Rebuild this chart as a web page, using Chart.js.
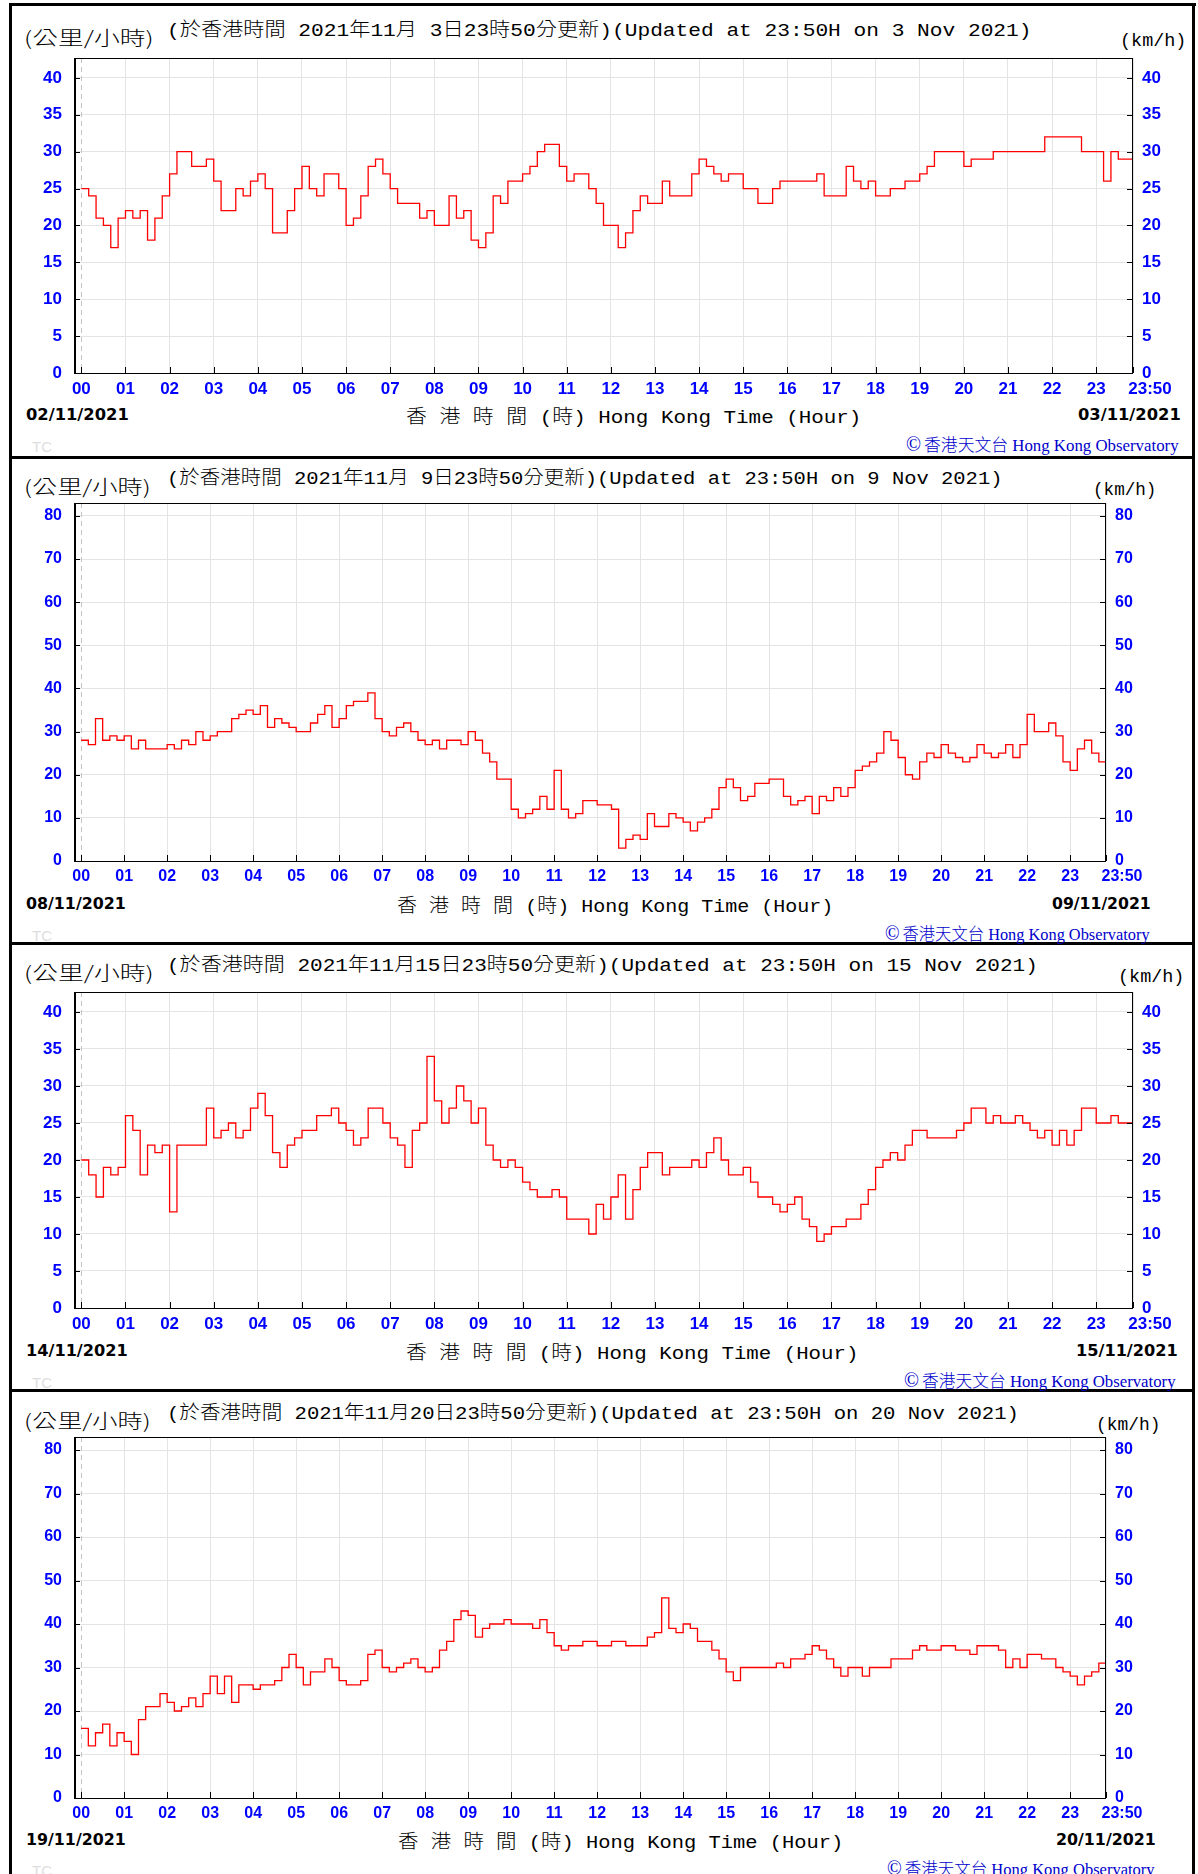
<!DOCTYPE html>
<html>
<head>
<meta charset="utf-8">
<title>Hong Kong wind speed</title>
<script src="https://cdn.jsdelivr.net/npm/chart.js@4.4.1/dist/chart.umd.min.js"></script>
<style>
  html, body { margin: 0; padding: 0; background: #fff; }
  #page { position: relative; width: 1198px; height: 1874px; overflow: hidden; background: #fff; }
  .rule { position: absolute; background: #000; }
  .t { position: absolute; white-space: nowrap; line-height: 24px; transform-origin: 0 50%; color: #000; }
  .title, .kmh, .axt { font-family: "Liberation Mono", "DejaVu Sans Mono", "Noto Sans CJK TC", monospace; font-size: 19px; }
  .cjk { font-family: "Noto Sans CJK TC", sans-serif; font-weight: 300; }
  .unit { font-family: "Noto Sans CJK TC", sans-serif; font-weight: 300; font-size: 19px; }
  .date { font-family: "DejaVu Sans", sans-serif; font-weight: bold; font-size: 16px; }
  .copy { font-family: "Liberation Serif", "Noto Sans CJK TC", serif; font-size: 17px; color: #0000cc; }
  .copy .mark { font-size: 20px; margin-right: 3px; }
  .tc { font-family: "Liberation Sans", sans-serif; font-size: 15px; color: #dedede; }
  canvas { position: absolute; left: 0; }
</style>
</head>
<body>
<div id="page"></div>
<script>
// wind speed (km/h), one reading every 10 minutes, 00:00 - 23:50 HKT
const sampleMinutes = Array.from({ length: 144 }, (_, i) => i * 10)

const speedNov3 = [
  25, 24, 21, 20, 17, 21, 22, 21, 22, 18, 21, 24,
  27, 30, 30, 28, 28, 29, 26, 22, 22, 25, 24, 26,
  27, 25, 19, 19, 22, 25, 28, 25, 24, 27, 27, 25,
  20, 21, 24, 28, 29, 27, 25, 23, 23, 23, 21, 22,
  20, 20, 24, 21, 22, 18, 17, 19, 24, 23, 26, 26,
  27, 28, 30, 31, 31, 28, 26, 27, 27, 25, 23, 20,
  20, 17, 19, 22, 24, 23, 23, 26, 24, 24, 24, 27,
  29, 28, 27, 26, 27, 27, 25, 25, 23, 23, 25, 26,
  26, 26, 26, 26, 27, 24, 24, 24, 28, 26, 25, 26,
  24, 24, 25, 25, 26, 26, 27, 28, 30, 30, 30, 30,
  28, 29, 29, 29, 30, 30, 30, 30, 30, 30, 30, 32,
  32, 32, 32, 32, 30, 30, 30, 26, 30, 29, 29, 29
]
const speedNov9 = [
  28, 27, 33, 28, 29, 28, 29, 26, 28, 26, 26, 26,
  27, 26, 28, 27, 30, 28, 29, 30, 30, 33, 34, 35,
  34, 36, 31, 33, 32, 31, 30, 30, 32, 34, 36, 31,
  33, 36, 37, 37, 39, 33, 30, 29, 31, 32, 30, 28,
  27, 28, 26, 28, 28, 27, 30, 28, 25, 23, 19, 19,
  12, 10, 11, 12, 15, 12, 21, 12, 10, 11, 14, 14,
  13, 13, 12, 3, 5, 6, 5, 11, 8, 8, 11, 10,
  9, 7, 9, 10, 12, 17, 19, 17, 14, 15, 18, 18,
  19, 19, 15, 13, 14, 15, 11, 15, 14, 17, 15, 17,
  21, 22, 23, 25, 30, 28, 24, 20, 19, 23, 25, 24,
  27, 25, 24, 23, 24, 27, 25, 24, 25, 27, 24, 27,
  34, 30, 30, 32, 29, 23, 21, 26, 28, 25, 23, 22
]
const speedNov15 = [
  20, 18, 15, 19, 18, 19, 26, 24, 18, 22, 21, 22,
  13, 22, 22, 22, 22, 27, 23, 24, 25, 23, 24, 27,
  29, 26, 21, 19, 22, 23, 24, 24, 26, 26, 27, 25,
  24, 22, 23, 27, 27, 25, 23, 22, 19, 24, 25, 34,
  28, 25, 27, 30, 28, 25, 27, 22, 20, 19, 20, 19,
  17, 16, 15, 15, 16, 15, 12, 12, 12, 10, 14, 12,
  15, 18, 12, 16, 19, 21, 21, 18, 19, 19, 19, 20,
  19, 21, 23, 20, 18, 18, 19, 17, 15, 15, 14, 13,
  14, 15, 12, 11, 9, 10, 11, 11, 12, 12, 14, 16,
  19, 20, 21, 20, 22, 24, 24, 23, 23, 23, 23, 24,
  25, 27, 27, 25, 26, 25, 25, 26, 25, 24, 23, 24,
  22, 24, 22, 24, 27, 27, 25, 25, 26, 25, 25, 24
]
const speedNov20 = [
  16, 12, 15, 17, 12, 15, 13, 10, 18, 21, 21, 24,
  22, 20, 21, 23, 21, 24, 28, 24, 28, 22, 26, 26,
  25, 26, 26, 27, 30, 33, 30, 26, 29, 29, 32, 30,
  27, 26, 26, 27, 33, 34, 30, 29, 30, 31, 32, 30,
  29, 30, 34, 36, 41, 43, 42, 37, 39, 40, 40, 41,
  40, 40, 40, 39, 41, 38, 35, 34, 35, 35, 36, 36,
  35, 35, 36, 36, 35, 35, 35, 37, 38, 46, 39, 38,
  40, 39, 36, 36, 34, 32, 29, 27, 30, 30, 30, 30,
  30, 31, 30, 32, 32, 33, 35, 34, 32, 30, 28, 30,
  30, 28, 30, 30, 30, 32, 32, 32, 34, 35, 34, 34,
  35, 35, 34, 34, 33, 35, 35, 35, 34, 30, 32, 30,
  33, 33, 32, 32, 30, 29, 28, 26, 28, 29, 31, 32
]

const hourLabels = ["00", "01", "02", "03", "04", "05", "06", "07", "08", "09", "10", "11",
  "12", "13", "14", "15", "16", "17", "18", "19", "20", "21", "22", "23", "23:50"]
const hourTickMinutes = hourLabels.map(l => {
  const [h, m = "0"] = l.split(":")
  return Number(h) * 60 + Number(m)
})
const yTicks40 = [0, 5, 10, 15, 20, 25, 30, 35, 40]
const yTicks80 = [0, 10, 20, 30, 40, 50, 60, 70, 80]

const titles = [
  "(於香港時間 2021年11月 3日23時50分更新)(Updated at 23:50H on 3 Nov 2021)",
  "(於香港時間 2021年11月 9日23時50分更新)(Updated at 23:50H on 9 Nov 2021)",
  "(於香港時間 2021年11月15日23時50分更新)(Updated at 23:50H on 15 Nov 2021)",
  "(於香港時間 2021年11月20日23時50分更新)(Updated at 23:50H on 20 Nov 2021)"
]
const startDates = ["02/11/2021", "08/11/2021", "14/11/2021", "19/11/2021"]
const endDates = ["03/11/2021", "09/11/2021", "15/11/2021", "20/11/2021"]
const unitZh = "(公里/小時)"
const unitEn = "(km/h)"
const axisTitle = "香 港 時 間 (時) Hong Kong Time (Hour)"
const credit = "香港天文台 Hong Kong Observatory"

// page geometry of each panel (px)
const panels = [
  { speeds: speedNov3, yTicks: yTicks40, top: 58, bottom: 373, right: 1133, yMax: 42.7, tick: 17,
    title: [167, 27.5, 864], unit: [24, 37, 129], kmh: [1120, 41, 66], d1: [26, 415, 103], d2: [1078, 415, 103],
    axt: [406, 415, 455], copy: [906, 443.5, 273], tc: [32, 447] },
  { speeds: speedNov9, yTicks: yTicks80, top: 503, bottom: 861, right: 1106, yMax: 83, tick: 16,
    title: [167, 476, 835], unit: [24, 485.5, 126], kmh: [1093, 490, 63], d1: [26, 904, 100], d2: [1052, 904, 99],
    axt: [397, 904, 436], copy: [885, 932.5, 265], tc: [32, 936] },
  { speeds: speedNov15, yTicks: yTicks40, top: 992, bottom: 1308, right: 1133, yMax: 42.7, tick: 17,
    title: [167, 962.5, 871], unit: [24, 972, 129], kmh: [1118, 977, 66], d1: [26, 1351, 102], d2: [1076, 1351, 102],
    axt: [406, 1351, 452], copy: [904, 1380, 272], tc: [32, 1383] },
  { speeds: speedNov20, yTicks: yTicks80, top: 1437, bottom: 1798, right: 1106, yMax: 83, tick: 16,
    title: [167, 1411, 852], unit: [24, 1420, 126], kmh: [1096, 1425, 64], d1: [26, 1840, 100], d2: [1056, 1840, 100],
    axt: [398, 1840, 445], copy: [887, 1867.5, 268], tc: [32, 1871] }
]

const page = document.getElementById("page")

function addRule(x, y, w, h) {
  const el = document.createElement("div")
  el.className = "rule"
  Object.assign(el.style, { left: x + "px", top: y + "px", width: w + "px", height: h + "px" })
  page.appendChild(el)
}

function addText(cls, html, spec) {
  const [x, cy, w] = spec
  const el = document.createElement("div")
  el.className = "t " + cls
  el.innerHTML = html
  el.style.left = x + "px"
  el.style.top = (cy - 12) + "px"
  if (w) el.dataset.w = w
  page.appendChild(el)
}

const markCjk = s => s.replace(/([\u3400-\u9fff]+)/g, '<span class="cjk">$1</span>')

function fitAll() {
  page.querySelectorAll(".t[data-w]").forEach(el => {
    const natural = el.offsetWidth
    if (natural > 0) el.style.transform = `scaleX(${el.dataset.w / natural})`
  })
}

// outer frame and panel separators
addRule(9, 3, 1187, 3)
addRule(9, 3, 3, 1871)
addRule(1192, 3, 3, 1871)
addRule(9, 456, 1186, 3)
addRule(9, 942, 1186, 3)
addRule(9, 1389, 1186, 3)

const framePlugin = {
  id: "frame",
  beforeDatasetsDraw(chart) {
    const { ctx, chartArea: a, scales: { x } } = chart
    const x0 = Math.round(x.getPixelForValue(0)) + 0.5
    ctx.save()
    ctx.strokeStyle = "#c4c4c4"
    ctx.lineWidth = 1
    ctx.setLineDash([5, 4])
    ctx.beginPath()
    ctx.moveTo(x0, a.top)
    ctx.lineTo(x0, a.bottom)
    ctx.stroke()
    ctx.restore()
  },
  afterDatasetsDraw(chart) {
    const { ctx, chartArea: a, scales: { x, y } } = chart
    ctx.save()
    ctx.strokeStyle = "#000"
    ctx.lineWidth = 1
    ctx.strokeRect(a.left + 0.5, a.top + 0.5, a.right - a.left - 1, a.bottom - a.top)
    ctx.lineWidth = 2
    ctx.beginPath()
    ctx.moveTo(a.left + 1, a.top)
    ctx.lineTo(a.left + 1, a.bottom)
    ctx.stroke()
    ctx.lineWidth = 1
    ctx.beginPath()
    y.ticks.forEach(t => {
      const py = Math.round(y.getPixelForValue(t.value)) + 0.5
      ctx.moveTo(a.left, py); ctx.lineTo(a.left + 6, py)
      ctx.moveTo(a.right, py); ctx.lineTo(a.right - 6, py)
    })
    x.ticks.forEach(t => {
      const px = Math.round(x.getPixelForValue(t.value)) + 0.5
      ctx.moveTo(px, a.bottom); ctx.lineTo(px, a.bottom - 6)
    })
    ctx.stroke()
    ctx.restore()
  }
}

panels.forEach((p, k) => {
  addText("unit", unitZh, p.unit)
  addText("title", markCjk(titles[k]), p.title)
  addText("kmh", unitEn, p.kmh)
  addText("date", startDates[k], p.d1)
  addText("date", endDates[k], p.d2)
  addText("axt", markCjk(axisTitle), p.axt)
  addText("copy", '<span class="mark">©</span>' + markCjk(credit), p.copy)
  addText("tc", "TC", p.tc)

  // top padding must exceed the y axes' own label padding so the plot top lands on p.top
  const padTop = 30, axisH = 34
  const h = p.bottom - p.top + padTop + axisH
  const canvas = document.createElement("canvas")
  canvas.width = 1198
  canvas.height = h
  canvas.style.top = (p.top - padTop) + "px"
  canvas.style.width = "1198px"
  canvas.style.height = h + "px"
  page.appendChild(canvas)

  const tickFont = { family: '"Liberation Sans", Arial, sans-serif', weight: "bold", size: p.tick }
  const yTickList = s => { s.ticks = p.yTicks.map(v => ({ value: v })) }

  new Chart(canvas, {
    type: "line",
    data: {
      datasets: [{
        data: p.speeds.map((v, i) => ({ x: sampleMinutes[i], y: v })),
        borderColor: "#ff0000",
        borderWidth: 1.3,
        pointRadius: 0,
        stepped: true,
        fill: false
      }]
    },
    options: {
      responsive: false,
      animation: false,
      events: [],
      layout: { padding: { top: padTop, left: 0, right: 0, bottom: 0 } },
      plugins: { legend: { display: false }, tooltip: { enabled: false } },
      scales: {
        x: {
          type: "linear", min: -10, max: 1430,
          afterBuildTicks: s => { s.ticks = hourTickMinutes.map(v => ({ value: v })) },
          afterFit: s => { s.height = axisH },
          grid: { color: c => (c.tick && c.tick.value === 0 ? "rgba(0,0,0,0)" : "#e4e4e4"), lineWidth: 1, drawTicks: false },
          border: { display: false },
          ticks: {
            autoSkip: false, maxRotation: 0, minRotation: 0, padding: 6, color: "#0000ff", font: tickFont,
            callback: (v, i) => (i === hourLabels.length - 1 ? "\u2003\u2003" + hourLabels[i] : hourLabels[i])
          }
        },
        y: {
          type: "linear", position: "left", min: 0, max: p.yMax,
          afterBuildTicks: yTickList,
          afterFit: s => { s.width = 74 },
          grid: { color: "#e4e4e4", lineWidth: 1, drawTicks: false },
          border: { display: false },
          ticks: { padding: 12, color: "#0000ff", font: tickFont, callback: v => String(v) }
        },
        y2: {
          type: "linear", position: "right", min: 0, max: p.yMax,
          afterBuildTicks: yTickList,
          afterFit: s => { s.width = 1198 - p.right },
          grid: { display: false, drawTicks: false },
          border: { display: false },
          ticks: { padding: 9, color: "#0000ff", font: tickFont, callback: v => String(v) }
        }
      }
    },
    plugins: [framePlugin]
  })
})

fitAll()
if (document.fonts && document.fonts.ready) document.fonts.ready.then(fitAll)
</script>
</body>
</html>
